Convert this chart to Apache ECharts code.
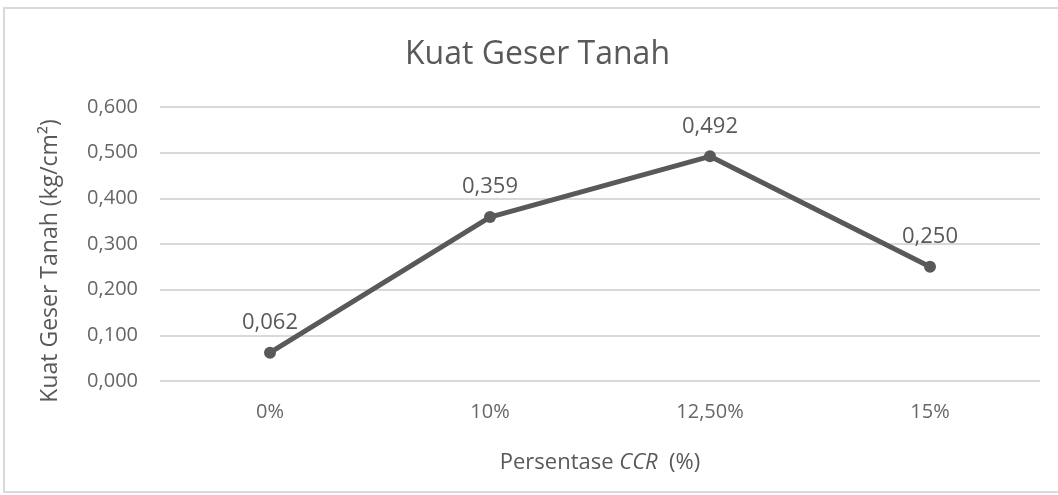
<!DOCTYPE html>
<html>
<head>
<meta charset="utf-8">
<script src="https://cdn.jsdelivr.net/npm/echarts@6/dist/echarts.min.js"></script>
<style>
  html, body { margin: 0; padding: 0; background: #fff; }
  #frame {
    position: absolute; left: 3px; top: 7px; width: 1070px; height: 486px;
    border: 2px solid #d9d9d9; box-sizing: border-box;
  }
  #chart { position: absolute; left: 0; top: 0; width: 1058px; height: 495px; }
</style>
</head>
<body>
<div id="frame"></div>
<div id="chart"></div>
<script>
// data
var categories = ['0%', '10%', '12,50%', '15%']
var kuatGeser = [0.062, 0.359, 0.492, 0.250]
var yMin = 0
var yMax = 0.6
var yStep = 0.1

var fmt = function (v) {
  return v.toFixed(3).replace('.', ',')
}

var font = 'Open Sans'
var chart = echarts.init(document.getElementById('chart'))
var option = {
  backgroundColor: 'transparent',
  textStyle: { fontFamily: font },
  title: {
    text: 'Kuat Geser Tanah',
    left: 400,
    top: 34,
    textStyle: { fontFamily: font, fontSize: 32, fontWeight: 'normal', color: '#595959' }
  },
  grid: { left: 160, right: 18, top: 107, bottom: 114 },
  xAxis: {
    type: 'category',
    data: categories,
    boundaryGap: true,
    name: '{n|Persentase }{i|CCR}{n|  (%)}',
    nameLocation: 'middle',
    nameGap: 71,
    nameTextStyle: {
      rich: {
        n: { fontFamily: font, fontSize: 22, color: '#595959' },
        i: { fontFamily: font, fontSize: 22, color: '#595959', fontStyle: 'italic' }
      }
    },
    axisLine: { show: true, lineStyle: { color: '#d9d9d9', width: 1 } },
    axisTick: { show: false },
    axisLabel: { margin: 21, fontSize: 20, color: '#666666', fontFamily: font }
  },
  yAxis: {
    type: 'value',
    min: yMin,
    max: yMax,
    interval: yStep,
    name: 'Kuat Geser Tanah (kg/cm²)',
    nameLocation: 'middle',
    nameRotate: 90,
    nameGap: 98,
    nameTextStyle: { fontFamily: font, fontSize: 23, color: '#595959', padding: [0, 34, 0, 0] },
    axisLine: { show: false },
    axisTick: { show: false },
    axisLabel: { margin: 22, fontSize: 20, color: '#666666', fontFamily: font, formatter: fmt },
    splitLine: { lineStyle: { color: '#d9d9d9', width: 2 } }
  },
  series: [{
    type: 'line',
    data: kuatGeser,
    symbol: 'circle',
    symbolSize: 12,
    lineStyle: { color: '#595959', width: 5 },
    itemStyle: { color: '#595959' },
    label: {
      show: true,
      position: 'top',
      distance: 13,
      fontSize: 22,
      color: '#595959',
      fontFamily: font,
      formatter: function (p) { return fmt(p.value) }
    }
  }]
}
chart.setOption(option)
</script>
</body>
</html>
